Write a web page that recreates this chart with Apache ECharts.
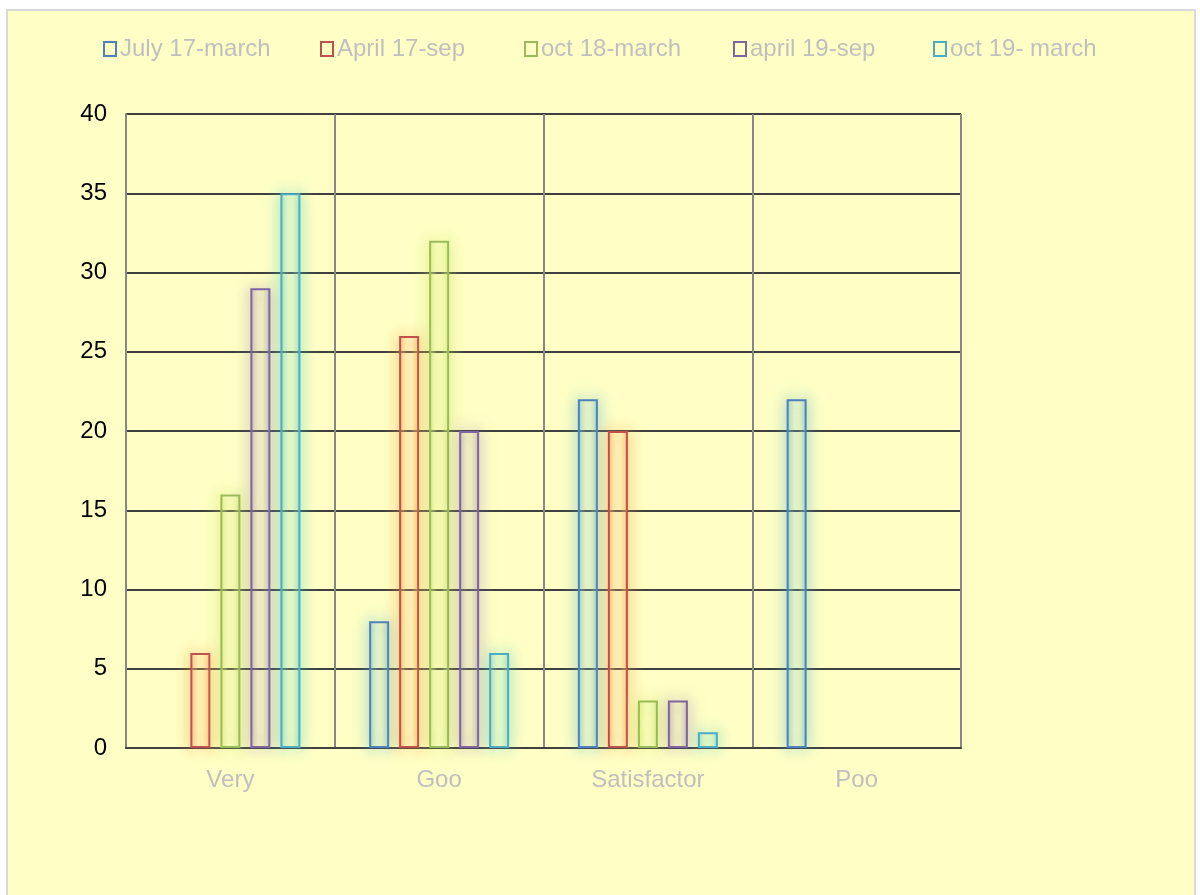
<!DOCTYPE html>
<html>
<head>
<meta charset="utf-8">
<script src="https://cdn.jsdelivr.net/npm/echarts@6/dist/echarts.min.js"></script>
<style>
  body { margin: 0; background: #fff; }
  #panel { position: absolute; left: 6px; top: 9px; width: 1190px; height: 890px; border: 2px solid #d9d9d9; background: #ffffc5; box-sizing: border-box; }
  #chart { position: absolute; left: 0; top: 0; width: 1200px; height: 895px; }
</style>
</head>
<body>
<div id="panel"></div>
<div id="chart"></div>
<script>
// survey answers per period
var categories = ['Very', 'Goo', 'Satisfactor', 'Poo'];
var seriesNames = ['July 17-march', 'April 17-sep', 'oct 18-march', 'april 19-sep', 'oct 19- march'];
var julyMarch = [0, 8, 22, 22];
var aprilSep17 = [6, 26, 20, 0];
var octMarch18 = [16, 32, 3, 0];
var aprilSep19 = [29, 20, 3, 0];
var octMarch19 = [35, 6, 1, 0];
var colors = ['#4f81bd', '#c0504d', '#9bbb59', '#8064a2', '#4bacc6'];
var glows = ['rgba(75,172,198,0.9)', 'rgba(247,150,70,0.9)', 'rgba(190,225,90,0.9)', 'rgba(128,100,162,0.75)', 'rgba(75,198,190,0.9)'];
var tints = ['rgba(75,172,198,0.45)', 'rgba(247,150,70,0.5)', 'rgba(200,230,90,0.5)', 'rgba(128,100,162,0.35)', 'rgba(75,198,190,0.45)'];
var legendLeft = [103, 320, 524, 733, 933];

var allValues = [julyMarch, aprilSep17, octMarch18, aprilSep19, octMarch19];

function makeSeries(i) {
    return {
        name: seriesNames[i],
        type: 'bar',
        barWidth: 20,
        barGap: '50%',
        data: allValues[i].map(function (v) { return v === 0 ? null : v; }),
        itemStyle: {
            color: {
                type: 'linear', x: 0, y: 0, x2: 1, y2: 0,
                colorStops: [
                    {offset: 0, color: tints[i]},
                    {offset: 0.4, color: 'rgba(255,255,200,0.1)'},
                    {offset: 0.6, color: 'rgba(255,255,200,0.1)'},
                    {offset: 1, color: tints[i]}
                ]
            },
            borderColor: colors[i],
            borderWidth: 2,
            shadowBlur: 16,
            shadowColor: glows[i]
        }
    };
}

// one legend per series so each sits where the original has it
function makeLegend(i) {
    return {
        left: legendLeft[i],
        top: 37,
        padding: 0,
        itemWidth: 12,
        itemHeight: 14,
        icon: 'rect',
        textStyle: { color: '#bfbfbf', fontSize: 24, padding: [0, 0, 0, -1] },
        data: [{ name: seriesNames[i], itemStyle: { color: 'transparent', borderColor: colors[i], borderWidth: 2, shadowBlur: 0 } }]
    };
}

var chart = echarts.init(document.getElementById('chart'));
var option = {
    backgroundColor: 'transparent',
    animation: false,
    textStyle: { fontFamily: 'Liberation Sans, Arial, sans-serif' },
    legend: [0, 1, 2, 3, 4].map(makeLegend),
    grid: { left: 126, top: 114, width: 835, height: 634, containLabel: false },
    xAxis: {
        type: 'category',
        data: categories,
        axisLine: { show: true, lineStyle: { color: '#404040', width: 2 } },
        axisTick: { show: false },
        axisLabel: { color: '#bfbfbf', fontSize: 24, margin: 20 },
        splitLine: { show: true, lineStyle: { color: '#878787', width: 2 } }
    },
    yAxis: {
        type: 'value',
        min: 0,
        max: 40,
        interval: 5,
        axisLine: { show: true, lineStyle: { color: '#878787', width: 2 } },
        axisTick: { show: false },
        axisLabel: { color: '#000', fontSize: 24, margin: 19 },
        splitLine: { show: true, lineStyle: { color: '#404040', width: 2 } }
    },
    series: [0, 1, 2, 3, 4].map(makeSeries)
};
chart.setOption(option);
</script>
</body>
</html>
